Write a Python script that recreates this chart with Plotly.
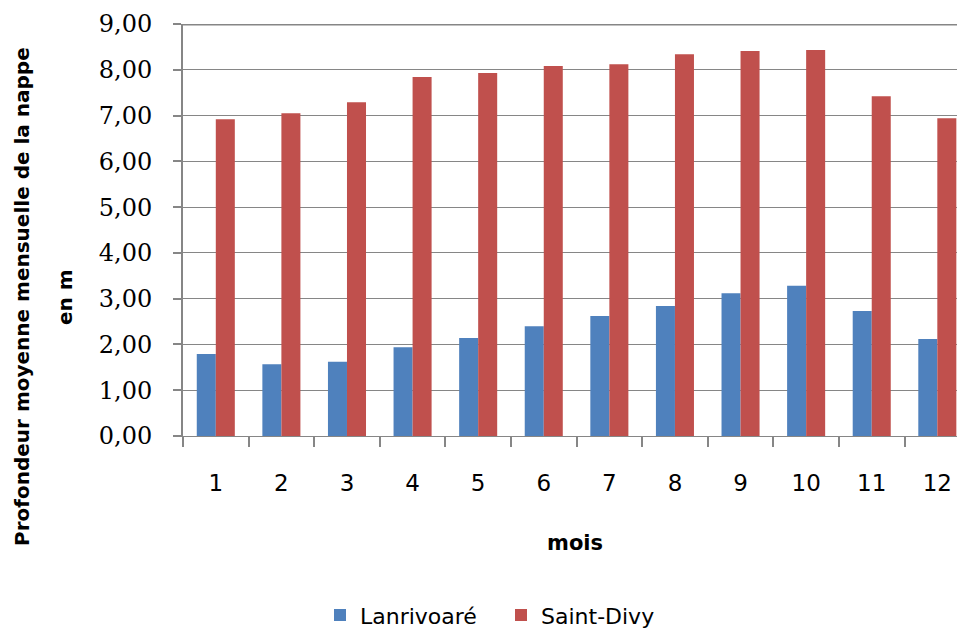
import plotly.graph_objects as go

# Profondeur moyenne mensuelle de la nappe (m) par mois
mois = [str(m) for m in range(1, 13)]
lanrivoare = [1.79, 1.57, 1.62, 1.94, 2.14, 2.40, 2.62, 2.84, 3.12, 3.28, 2.73, 2.12]
saint_divy = [6.92, 7.05, 7.29, 7.84, 7.93, 8.08, 8.12, 8.34, 8.41, 8.43, 7.42, 6.94]
y_ticks = [0, 1, 2, 3, 4, 5, 6, 7, 8, 9]

GRID = "#868686"

fig = go.Figure()
fig.add_trace(go.Bar(x=mois, y=lanrivoare, name="Lanrivoaré",
                     marker=dict(color="#4F81BD", line=dict(width=0))))
fig.add_trace(go.Bar(x=mois, y=saint_divy, name="Saint-Divy",
                     marker=dict(color="#C0504D", line=dict(width=0))))

fig.update_layout(
    width=957, height=632,
    margin=dict(l=183, r=0, t=24, b=196, autoexpand=False),
    paper_bgcolor="white", plot_bgcolor="white",
    barmode="group", bargap=0.42, bargroupgap=0,
    separators=", ",
    font=dict(family="DejaVu Sans", color="black"),
    showlegend=True,
    legend=dict(orientation="h", x=(501 - 183) / 774, xanchor="center", xref="paper",
                y=-0.384, yanchor="top",
                font=dict(family="DejaVu Sans", size=22, color="black"),
                itemwidth=30, traceorder="normal",
                entrywidth=136, entrywidthmode="pixels"),
)

fig.update_xaxes(
    type="category", range=[-0.5, 11.3],
    tickson="boundaries", ticks="outside", ticklen=10, tickwidth=2, tickcolor=GRID,
    showline=True, linecolor=GRID, linewidth=1,
    showgrid=False,
    tickfont=dict(family="DejaVu Sans", size=23, color="black"),
    ticklabelstandoff=26,
)
fig.update_yaxes(
    range=[0, 9], tickvals=y_ticks, tickformat=".2f",
    ticks="outside", ticklen=8, tickwidth=2, tickcolor=GRID,
    showline=True, linecolor=GRID, linewidth=2,
    showgrid=True, gridcolor=GRID, gridwidth=1,
    zeroline=False,
    tickfont=dict(family="DejaVu Serif", size=24, color="black"),
    ticklabelstandoff=16,
)

# thicker upper border of the plot area
fig.add_shape(type="line", xref="paper", yref="y", x0=0, x1=1, y0=9, y1=9,
              line=dict(color=GRID, width=3), layer="above")

# axis titles
fig.add_annotation(text="mois", xref="paper", yref="paper", x=(575 - 183) / 774,
                   y=-(543 - 436) / 412, showarrow=False, xanchor="center", yanchor="middle",
                   font=dict(family="DejaVu Sans", size=21, color="black", weight="bold"))
fig.add_annotation(text="Profondeur moyenne mensuelle de la nappe", xref="paper", yref="paper",
                   x=-(183 - 22) / 774, y=(436 - 297) / 412, textangle=-90, showarrow=False,
                   xanchor="center", yanchor="middle",
                   font=dict(family="DejaVu Sans", size=20, color="black", weight="bold"))
fig.add_annotation(text="en m", xref="paper", yref="paper",
                   x=-(183 - 65) / 774, y=(436 - 297) / 412, textangle=-90, showarrow=False,
                   xanchor="center", yanchor="middle",
                   font=dict(family="DejaVu Sans", size=20, color="black", weight="bold"))

fig.write_html("out.html")
